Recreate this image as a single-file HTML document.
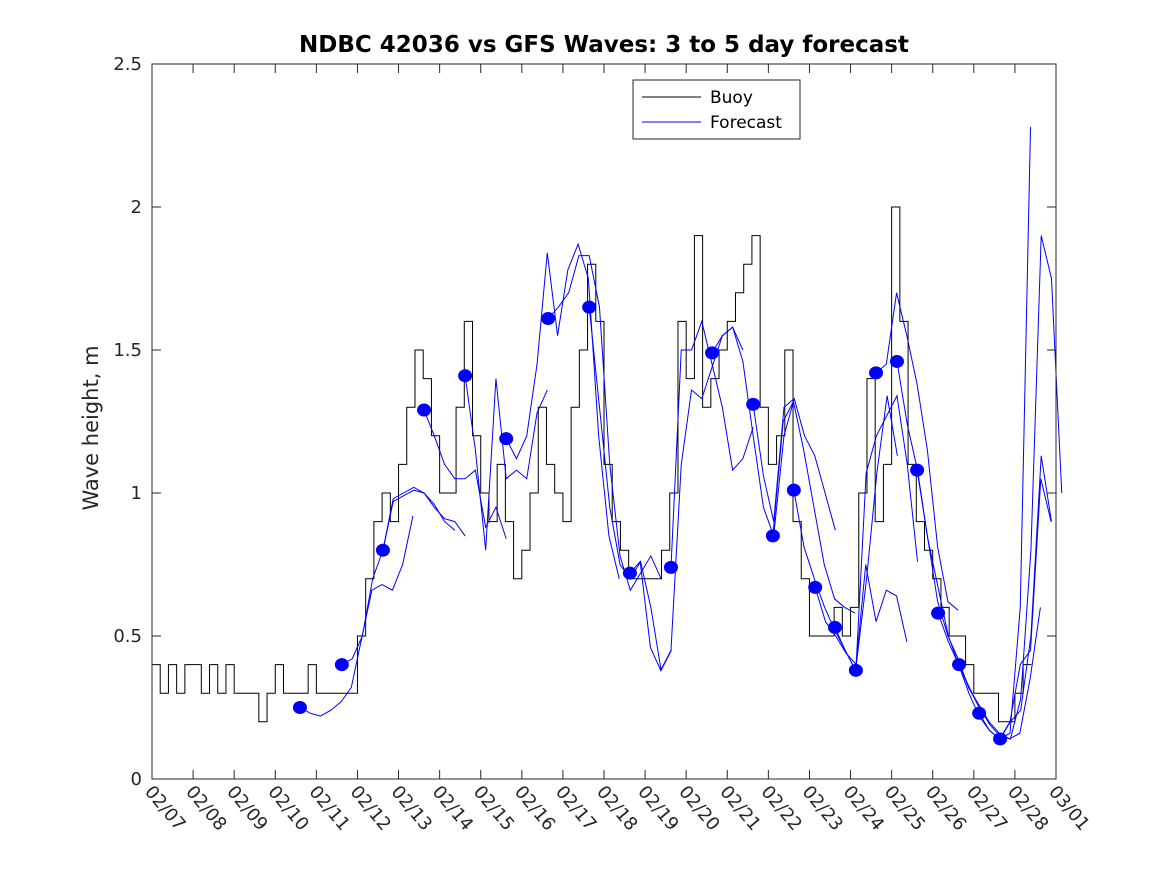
<!DOCTYPE html>
<html><head><meta charset="utf-8"><style>
body{margin:0;background:#fff}
svg text{font-family:"DejaVu Sans","Liberation Sans",sans-serif}
</style></head><body>
<svg id="chart" width="1167" height="875" viewBox="0 0 1167 875" xmlns="http://www.w3.org/2000/svg">
<rect x="0" y="0" width="1167" height="875" fill="#fff"/>
<text x="604" y="52" text-anchor="middle" font-size="23" font-weight="bold">NDBC 42036 vs GFS Waves: 3 to 5 day forecast</text>
<text transform="translate(98,428) rotate(-90)" text-anchor="middle" font-size="21" fill="#262626">Wave height, m</text>
<g id="marks"></g>
<rect x="152" y="64" width="904" height="715" fill="none" stroke="#262626" stroke-width="1"/>
<g id="axes"></g>
<g>
<rect x="633" y="80" width="167" height="59" fill="#fff" stroke="#262626"/>
<line x1="642" y1="97" x2="701" y2="97" stroke="#000"/>
<text x="710" y="103" font-size="17">Buoy</text>
<line x1="642" y1="122" x2="701" y2="122" stroke="#00f"/>
<text x="710" y="128" font-size="17">Forecast</text>
</g>
</svg>
<script>
const xTickLabels=["02/07","02/08","02/09","02/10","02/11","02/12","02/13","02/14","02/15","02/16","02/17","02/18","02/19","02/20","02/21","02/22","02/23","02/24","02/25","02/26","02/27","02/28","03/01"];
const yTicks=[0,0.5,1,1.5,2,2.5];
const yTickLabels=["0","0.5","1","1.5","2","2.5"];
const buoyStart=0, buoyStep=0.2;
const buoyHs=[0.4,0.3,0.4,0.3,0.4,0.4,0.3,0.4,0.3,0.4,0.3,0.3,0.3,0.2,0.3,0.4,0.3,0.3,0.3,0.4,0.3,0.3,0.3,0.3,0.3,0.5,0.7,0.9,1.0,0.9,1.1,1.3,1.5,1.4,1.2,1.0,1.0,1.3,1.6,1.2,1.0,0.9,1.1,0.9,0.7,0.8,1.0,1.3,1.1,1.0,0.9,1.3,1.5,1.8,1.6,1.1,0.9,0.8,0.7,0.7,0.7,0.7,0.8,1.0,1.6,1.4,1.9,1.3,1.4,1.5,1.6,1.7,1.8,1.9,1.3,1.1,1.2,1.5,0.9,0.7,0.5,0.5,0.5,0.6,0.5,0.6,1.0,1.4,0.9,1.1,2.0,1.6,1.1,0.9,0.8,0.7,0.6,0.5,0.5,0.4,0.3,0.3,0.3,0.2,0.2,0.3,0.4];
const fcStep=0.25;
const fcStarts=[3.60,4.62,5.62,6.62,7.62,8.62,9.64,10.64,11.63,12.63,13.63,14.63,15.11,15.62,16.14,16.62,17.13,17.62,18.13,18.62,19.13,19.64,20.13,20.64];
const fc1=[0.25,0.23,0.22,0.24,0.27,0.32,0.49,0.66,0.68,0.66,0.75,0.92];
const fc2=[0.40,0.42,0.50,0.70,0.80,0.97,0.99,1.01,1.00,0.96,0.90,0.87];
const fc3=[0.80,0.98,1.00,1.02,1.00,0.95,0.91,0.90,0.85];
const fc4=[1.29,1.20,1.10,1.05,1.05,1.08,0.88,0.95,0.84];
const fc5=[1.41,1.15,0.80,1.40,1.05,1.08,1.05,1.28,1.36];
const fc6=[1.19,1.12,1.20,1.45,1.84,1.55,1.78,1.87,1.75,1.20,0.85,0.70];
const fc7=[1.61,1.65,1.70,1.83,1.83,1.65,1.10,0.78,0.66,0.72,0.78,0.70];
const fc8=[1.65,1.30,0.95,0.75,0.70,0.76,0.60,0.38,0.45];
const fc9=[0.72,0.76,0.46,0.38,0.45,1.10,1.36,1.33,1.44,1.55,1.58,1.50];
const fc10=[0.74,1.50,1.50,1.60,1.45,1.30,1.08,1.12,1.23];
const fc11=[1.49,1.55,1.58,1.46,1.20,0.95,0.85,1.20,1.33];
const fc12=[1.31,1.06,0.90,1.30,1.33,1.20,1.13,1.00,0.87];
const fc13=[0.85,1.25,1.32,1.15,0.95,0.75,0.63,0.60,0.58];
const fc14=[1.01,0.81,0.70,0.60,0.52,0.45,0.38];
const fc15=[0.67,0.55,0.50,0.44,0.40,0.70,1.07,1.34,1.13];
const fc16=[0.53,0.45,0.38,0.75,0.55,0.66,0.64,0.48];
const fc17=[0.38,1.07,1.20,1.27,1.34,1.10,0.76];
const fc18=[1.42,1.45,1.70,1.55,1.38,1.15,0.81,0.62,0.59];
const fc19=[1.46,1.24,1.08,0.84,0.67,0.50,0.40,0.32,0.25];
const fc20=[1.08,0.85,0.62,0.50,0.42,0.32,0.26,0.20,0.16,0.14,0.16,0.35,0.60];
const fc21=[0.58,0.48,0.40,0.30,0.22,0.17,0.14,0.16,0.60,2.28];
const fc22=[0.40,0.32,0.25,0.19,0.15,0.14,0.28,0.80,1.90,1.75,1.00];
const fc23=[0.23,0.17,0.14,0.20,0.40,0.45,1.05,0.90];
const fc24=[0.14,0.20,0.24,0.50,1.13,0.90];
const fcAll=[fc1,fc2,fc3,fc4,fc5,fc6,fc7,fc8,fc9,fc10,fc11,fc12,fc13,fc14,fc15,fc16,fc17,fc18,fc19,fc20,fc21,fc22,fc23,fc24];

const NS="http://www.w3.org/2000/svg";
const X0=152,X1=1056,Y0=779,Y1=64,DAYS=22,YMAX=2.5;
function xs(d){return X0+(X1-X0)*d/DAYS;}
function ys(v){return Y0-(Y0-Y1)*v/YMAX;}
function mk(tag,attrs,parent){const e=document.createElementNS(NS,tag);for(const k in attrs)e.setAttribute(k,attrs[k]);parent.appendChild(e);return e;}
const marks=document.getElementById('marks');
const axes=document.getElementById('axes');

let d="";
buoyHs.forEach((v,i)=>{const t=buoyStart+i*buoyStep;const x=xs(t),y=ys(v);
 if(i===0)d+=`M${x},${y}`;else d+=`V${y}`;d+=`H${xs(t+buoyStep)}`;});
const bl=mk('path',{d:d,fill:'none',stroke:'#000','stroke-width':1},marks);



fcAll.forEach((arr,k)=>{
 const pts=arr.map((v,i)=>xs(fcStarts[k]+i*fcStep)+','+ys(v)).join(' ');
 const pl=mk('polyline',{points:pts,fill:'none',stroke:'#00f','stroke-width':1},marks);
 
 
});
fcAll.forEach((arr,k)=>{
 const c=mk('ellipse',{cx:xs(fcStarts[k]),cy:ys(arr[0]),rx:7,ry:6.5,fill:'#00f'},marks);
 
 
});

yTicks.forEach((v,i)=>{const y=ys(v);
 mk('line',{x1:X0,y1:y,x2:X0+9,y2:y,stroke:'#262626'},axes);
 mk('line',{x1:X1,y1:y,x2:X1-9,y2:y,stroke:'#262626'},axes);
 const t=mk('text',{x:X0-10,y:y+6,'text-anchor':'end','font-size':18,fill:'#262626'},axes);
 t.textContent=yTickLabels[i];
 
 
});
xTickLabels.forEach((lab,i)=>{const x=xs(i);
 mk('line',{x1:x,y1:Y0,x2:x,y2:Y0-9,stroke:'#262626'},axes);
 mk('line',{x1:x,y1:Y1,x2:x,y2:Y1+9,stroke:'#262626'},axes);
 const t=mk('text',{transform:`translate(${x-8},${Y0+13}) rotate(50)`,'font-size':18,fill:'#262626'},axes);
 t.textContent=lab;
 
 
});
</script>
</body></html>
